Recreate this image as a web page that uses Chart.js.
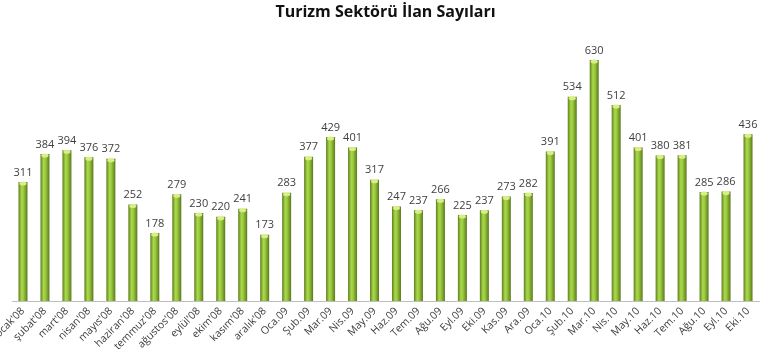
<!DOCTYPE html>
<html>
<head>
<meta charset="utf-8">
<script src="https://cdn.jsdelivr.net/npm/chart.js@4/dist/chart.umd.min.js"></script>
<style>
  html, body { margin: 0; padding: 0; background: #fff; }
  #wrap { width: 760px; height: 354px; }
</style>
</head>
<body>
<div id="wrap"><canvas id="ilan"></canvas></div>
<script>
    // aylar ve ilan sayıları
    const aylar = [
        "ocak'08", "şubat'08", "mart'08", "nisan'08", "mayıs'08", "haziran'08",
        "temmuz'08", "ağustos'08", "eylül'08", "ekim'08", "kasım'08", "aralık'08",
        'Oca.09', 'Şub.09', 'Mar.09', 'Nis.09', 'May.09', 'Haz.09',
        'Tem.09', 'Ağu.09', 'Eyl.09', 'Eki.09', 'Kas.09', 'Ara.09',
        'Oca.10', 'Şub.10', 'Mar.10', 'Nis.10', 'May.10', 'Haz.10',
        'Tem.10', 'Ağu.10', 'Eyl.10', 'Eki.10'
    ];
    const ilanSayilari = [
        311, 384, 394, 376, 372, 252, 178, 279, 230, 220, 241, 173,
        283, 377, 429, 401, 317, 247, 237, 266, 225, 237, 273, 282,
        391, 534, 630, 512, 401, 380, 381, 285, 286, 436
    ];

    // silindir gibi görünsün diye her çubuğa kendi yatay gradyanı
    function silindir(c) {
        const x = c.chart.scales.x;
        if (!x || c.dataIndex === undefined) return '#8dbf35';
        const mid = x.getPixelForValue(c.dataIndex);
        if (!isFinite(mid)) return '#8dbf35';
        const g = c.chart.ctx.createLinearGradient(mid - 4.5, 0, mid + 4.5, 0);
        g.addColorStop(0, '#5f7f1e');
        g.addColorStop(0.35, '#a9d84c');
        g.addColorStop(0.55, '#9ccb3e');
        g.addColorStop(1, '#5a791c');
        return g;
    }

    // üstte açık kapak + değer etiketleri
    const ustYazi = {
        id: 'ustYazi',
        afterDatasetsDraw(chart) {
            const c = chart.ctx;
            const meta = chart.getDatasetMeta(0);
            c.save();
            meta.data.forEach((el, i) => {
                c.fillStyle = '#d8ee86';
                c.beginPath();
                c.ellipse(el.x, el.y + 1.5, el.width / 2 - 1, 2, 0, 0, Math.PI * 2);
                c.fill();
                c.fillStyle = '#404040';
                c.font = '11px "Open Sans", sans-serif';
                c.textAlign = 'center';
                c.textBaseline = 'bottom';
                c.fillText(ilanSayilari[i], el.x, el.y - 4);
            });
            c.restore();
        }
    };

    const ctx = document.getElementById('ilan').getContext('2d');
    const chart = new Chart(ctx, {
        type: 'bar',
        data: {
            labels: aylar,
            datasets: [{
                data: ilanSayilari,
                backgroundColor: silindir,
                borderWidth: 0,
                barPercentage: 0.82,
                categoryPercentage: 0.5
            }]
        },
        options: {
            responsive: true,
            maintainAspectRatio: false,
            animation: false,
            layout: { padding: { left: 12, right: 1, top: 0, bottom: 0 } },
            plugins: {
                legend: { display: false },
                tooltip: { enabled: false },
                title: {
                    display: true,
                    text: 'Turizm Sektörü İlan Sayıları',
                    color: '#111',
                    font: { family: '"Open Sans", sans-serif', size: 16, weight: 'bold' },
                    padding: { top: 3, bottom: 11 }
                }
            },
            scales: {
                y: {
                    display: false,
                    min: 0,
                    max: 700
                },
                x: {
                    grid: { display: false, drawTicks: false },
                    border: { display: true, color: '#bfbfbf', width: 1 },
                    ticks: {
                        color: '#404040',
                        font: { family: '"Open Sans", sans-serif', size: 10.5 },
                        maxRotation: 45,
                        minRotation: 45,
                        autoSkip: false,
                        padding: 4
                    },
                    afterFit(scale) {
                        scale.height = 53;
                        scale.paddingLeft = 0;
                        scale.paddingRight = 0;
                    }
                }
            }
        },
        plugins: [ustYazi]
    });
</script>
</body>
</html>
